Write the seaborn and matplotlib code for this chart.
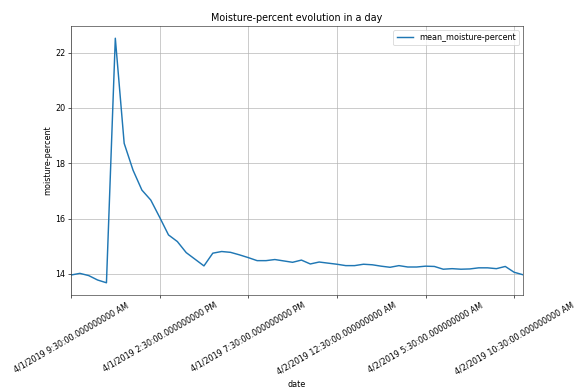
import matplotlib
matplotlib.use("Agg")
import matplotlib.pyplot as plt
import seaborn as sns
import pandas as pd
import numpy as np

# Half-hourly readings starting 4/1/2019 9:30 AM
start = "2019-04-01 09:30"
n_points = 52
stamps = pd.date_range(start, periods=n_points, freq="30min")


def fmt(d):
    hour12 = d.hour % 12 or 12
    ampm = "AM" if d.hour < 12 else "PM"
    return f"{d.month}/{d.day}/{d.year} {hour12}:{d.minute:02d}:00.000000000 {ampm}"


dates = [fmt(d) for d in stamps]

moisture = [
    13.96, 14.02, 13.94, 13.78, 13.68, 22.52, 18.72, 17.75, 17.03, 16.67,
    16.05, 15.41, 15.17, 14.77, 14.53, 14.29, 14.75, 14.81, 14.78, 14.69,
    14.59, 14.48, 14.48, 14.52, 14.47, 14.42, 14.50, 14.36, 14.43, 14.39,
    14.35, 14.30, 14.30, 14.35, 14.33, 14.28, 14.24, 14.30, 14.25, 14.25,
    14.28, 14.27, 14.17, 14.19, 14.17, 14.18, 14.22, 14.22, 14.19, 14.27,
    14.06, 13.97,
]

series_name = "mean_moisture-percent"
tick_step = 10

df = pd.DataFrame({"date": dates, series_name: moisture})

DPI = 58
fig = plt.figure(figsize=(575 / DPI, 389 / DPI), dpi=DPI)
ax = fig.add_axes([71 / 575, (389 - 295) / 389, (523 - 71) / 575, (295 - 26) / 389])

sns.lineplot(data=df, x="date", y=series_name, sort=False, ax=ax,
             color="#1f77b4", linewidth=1.8, label=series_name)

ticks = list(range(0, n_points, tick_step))
ax.set_xticks(ticks)
ax.set_xticklabels([dates[i] for i in ticks], rotation=30, ha="center")
ax.set_xlim(0, n_points - 1)

for side in ax.spines.values():
    side.set_edgecolor("#333333")
ax.grid(True, color="#b0b0b0", linewidth=0.8)
ax.set_axisbelow(True)
ax.set_title("Moisture-percent evolution in a day")
ax.set_xlabel("date")
ax.set_ylabel("moisture-percent")
ax.legend(loc="upper right")

fig.savefig("out.png", dpi=DPI)
